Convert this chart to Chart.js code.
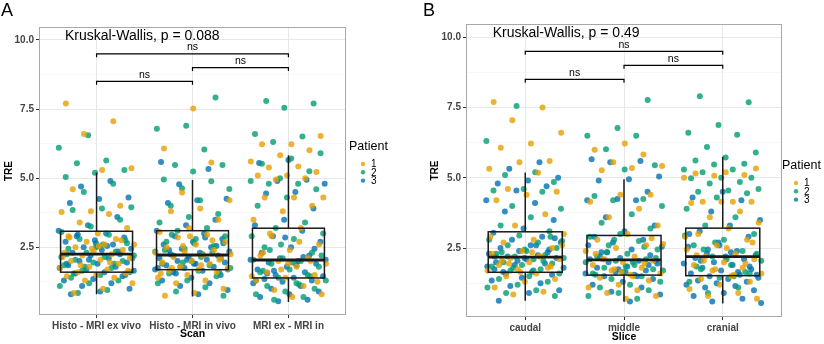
<!DOCTYPE html>
<html lang="en">
<head>
<meta charset="UTF-8"/>
<title>TRE per scan and slice</title>
<script src="https://cdn.jsdelivr.net/npm/chart.js@4.4.1/dist/chart.umd.min.js"></script>
<style>
    body { margin: 0; background: #fff; width: 824px; height: 344px; position: relative; overflow: hidden;
           font-family: "Liberation Sans", Arial, sans-serif; }
    .panel { position: absolute; top: 0; width: 412px; height: 344px; }
    .letter { position: absolute; top: 0; font-size: 18px; line-height: 21px; color: #000; }
</style>
</head>
<body>
<div class="panel" style="left:0"><canvas id="chartA" width="412" height="344"></canvas></div>
<div class="panel" style="left:412px"><canvas id="chartB" width="412" height="344"></canvas></div>
<div class="letter" style="left:1px">A</div>
<div class="letter" style="left:423px">B</div>
<script>
// ---- data ----
const patientLabels = ['1', '2', '3'];
const scanCategories = ['Histo - MRI ex vivo', 'Histo - MRI in vivo', 'MRI ex - MRI in'];
const sliceCategories = ['caudal', 'middle', 'cranial'];
const yTickValues = [1.25, 2.5, 3.75, 5, 6.25, 7.5, 8.75, 10];

// panel A, one array per patient per scan
const scanP1 = [
    [7.7, 7.06, 6.6, 5.36, 5.3, 4.6, 4.0, 3.8, 3.78, 3.7, 3.4, 3.2, 3.0, 2.9, 2.8, 2.7, 2.6, 2.6, 2.5, 2.4, 2.35, 2.3, 2.25, 2.2, 2.1, 2.05, 2.0, 1.9, 1.8, 1.75, 1.7, 1.6, 1.55, 1.5, 1.45, 1.4, 1.3, 1.2, 1.0, 0.85, 2.75, 2.45, 2.15, 1.95, 1.85, 1.65, 2.55, 2.85],
    [7.52, 6.07, 5.57, 4.48, 4.2, 3.9, 3.8, 3.5, 3.2, 3.05, 2.95, 2.85, 2.7, 2.6, 2.5, 2.4, 2.35, 2.3, 2.2, 2.15, 2.1, 2.0, 1.95, 1.9, 1.8, 1.75, 1.7, 1.65, 1.6, 1.5, 1.4, 1.3, 1.2, 1.0, 0.85, 0.75, 2.75, 2.55, 2.25, 1.85, 1.75, 2.05, 2.9, 1.55],
    [6.53, 6.23, 6.23, 6.01, 5.83, 5.6, 5.42, 5.39, 5.22, 5.1, 5.1, 5.0, 4.95, 4.3, 4.3, 4.3, 4.0, 3.8, 3.5, 3.2, 2.9, 2.6, 2.4, 2.2, 2.1, 2.0, 1.9, 1.8, 1.6, 1.5, 1.4, 1.3, 1.1, 0.95, 0.8, 0.7, 2.3, 2.0, 1.7, 1.45, 2.7, 3.0, 1.25, 1.9]
];
const scanP2 = [
    [6.55, 6.1, 5.64, 5.54, 5.3, 5.2, 5.04, 4.8, 4.5, 3.95, 3.9, 3.85, 3.5, 3.25, 3.05, 2.95, 2.8, 2.65, 2.55, 2.45, 2.35, 2.3, 2.2, 2.15, 2.05, 2.0, 1.95, 1.85, 1.75, 1.65, 1.6, 1.5, 1.4, 1.3, 1.2, 1.1, 0.95, 0.85, 2.75, 2.5, 2.25, 1.9, 1.8, 2.1, 2.6, 1.55],
    [7.92, 6.9, 6.79, 6.04, 5.48, 5.48, 5.24, 4.95, 4.89, 4.64, 4.61, 4.2, 4.0, 3.7, 3.6, 3.4, 3.2, 3.1, 2.9, 2.8, 2.7, 2.55, 2.45, 2.35, 2.25, 2.2, 2.1, 2.0, 1.9, 1.85, 1.8, 1.7, 1.65, 1.55, 1.45, 1.3, 1.2, 1.05, 0.9, 0.75, 2.65, 2.4, 2.3, 1.95, 1.75, 2.15, 2.95, 1.6],
    [7.79, 7.7, 7.55, 6.6, 6.51, 6.31, 5.9, 5.71, 5.52, 5.25, 5.0, 4.9, 4.8, 4.8, 4.6, 4.3, 4.0, 3.4, 3.2, 3.0, 2.8, 2.5, 2.3, 2.1, 2.05, 2.0, 1.9, 1.8, 1.7, 1.6, 1.5, 1.4, 1.3, 1.2, 1.1, 1.0, 0.9, 0.8, 0.7, 0.6, 2.2, 1.95, 1.65, 1.45, 2.6, 2.9, 1.15, 2.4]
];
const scanP3 = [
    [4.9, 4.7, 4.3, 4.25, 4.1, 3.6, 3.3, 3.1, 3.0, 2.9, 2.85, 2.75, 2.7, 2.6, 2.5, 2.45, 2.4, 2.3, 2.25, 2.2, 2.15, 2.1, 2.0, 1.95, 1.9, 1.85, 1.8, 1.7, 1.65, 1.6, 1.55, 1.45, 1.35, 1.3, 1.2, 1.1, 1.0, 0.9, 0.8, 2.35, 2.05, 1.75, 2.55, 2.95, 1.5, 2.65, 1.9],
    [5.59, 5.33, 4.78, 4.26, 4.2, 4.1, 3.5, 3.3, 3.1, 3.0, 2.9, 2.8, 2.7, 2.6, 2.5, 2.45, 2.35, 2.3, 2.25, 2.2, 2.15, 2.1, 2.05, 2.0, 1.95, 1.9, 1.85, 1.8, 1.75, 1.7, 1.65, 1.6, 1.5, 1.4, 1.3, 1.2, 1.1, 0.95, 0.8, 2.4, 2.55, 2.05, 1.75, 2.85, 1.55, 2.65, 1.9],
    [5.66, 5.55, 4.94, 4.9, 4.8, 4.5, 4.45, 3.9, 3.5, 3.3, 3.1, 2.9, 2.7, 2.5, 2.3, 2.2, 2.1, 2.05, 2.0, 1.95, 1.9, 1.8, 1.7, 1.6, 1.5, 1.45, 1.4, 1.35, 1.3, 1.25, 1.2, 1.1, 1.0, 0.9, 0.8, 0.7, 0.6, 0.55, 2.05, 1.85, 1.55, 2.45, 2.85, 1.3, 2.15, 1.65]
];

// panel B, one array per patient per slice
const sliceP1 = [
    [7.7, 7.5, 7.05, 6.6, 6.22, 6.07, 5.6, 5.55, 5.32, 5.18, 4.6, 4.5, 4.4, 4.2, 3.7, 3.3, 3.0, 2.8, 2.7, 2.5, 2.4, 2.3, 2.2, 2.15, 2.1, 2.0, 1.9, 1.8, 1.75, 1.7, 1.6, 1.5, 1.4, 1.3, 1.1, 0.95, 0.85, 2.6, 2.35, 2.05, 1.85, 1.65, 2.9, 2.2, 1.95],
    [6.22, 6.0, 5.83, 5.55, 5.42, 5.35, 5.27, 4.4, 4.4, 4.15, 3.9, 3.6, 3.3, 3.0, 2.8, 2.6, 2.5, 2.4, 2.2, 2.1, 2.05, 2.0, 1.9, 1.8, 1.7, 1.6, 1.55, 1.45, 1.35, 1.2, 1.1, 1.0, 0.9, 0.8, 0.7, 2.3, 1.95, 1.75, 2.65, 1.5, 2.1, 2.85, 1.65],
    [5.33, 5.2, 5.15, 5.1, 5.07, 5.0, 4.15, 4.15, 4.15, 4.15, 4.1, 3.8, 3.6, 3.4, 3.2, 3.0, 2.8, 2.6, 2.45, 2.3, 2.2, 2.1, 2.0, 1.9, 1.8, 1.7, 1.6, 1.5, 1.4, 1.3, 1.2, 1.05, 0.9, 0.8, 0.7, 2.5, 2.25, 1.95, 1.75, 2.9, 1.55, 2.05, 2.7]
];
const sliceP2 = [
    [7.55, 6.31, 5.2, 5.1, 4.85, 4.6, 4.55, 4.5, 4.0, 3.9, 3.6, 3.3, 3.1, 2.95, 2.8, 2.7, 2.6, 2.5, 2.4, 2.3, 2.25, 2.2, 2.15, 2.1, 2.0, 1.95, 1.9, 1.85, 1.75, 1.7, 1.6, 1.5, 1.4, 1.3, 1.2, 1.1, 1.0, 0.9, 0.8, 2.45, 2.2, 2.05, 1.8, 2.75, 1.65, 2.35, 2.9],
    [7.77, 6.77, 6.5, 6.5, 6.02, 5.45, 5.3, 4.35, 4.25, 4.2, 4.0, 3.7, 3.4, 3.2, 3.0, 2.9, 2.75, 2.6, 2.45, 2.3, 2.2, 2.1, 2.05, 2.0, 1.9, 1.8, 1.75, 1.65, 1.6, 1.5, 1.4, 1.3, 1.2, 1.1, 1.0, 0.9, 0.8, 0.7, 2.35, 2.15, 1.85, 1.55, 2.55, 2.8, 1.7, 2.0],
    [7.9, 7.69, 6.88, 6.6, 6.53, 6.1, 5.9, 5.72, 5.62, 5.5, 5.47, 5.3, 5.3, 5.2, 5.0, 5.0, 4.98, 4.85, 4.8, 4.6, 4.55, 4.5, 4.45, 4.3, 3.9, 3.6, 3.3, 3.0, 2.8, 2.6, 2.4, 2.2, 2.05, 1.9, 1.75, 1.6, 1.45, 1.3, 1.1, 0.9, 2.3, 2.1, 1.85, 1.65, 2.7, 2.95, 1.5, 2.45]
];
const sliceP3 = [
    [5.55, 5.32, 5.0, 4.9, 4.8, 4.7, 4.55, 4.2, 4.1, 3.8, 3.5, 3.2, 3.05, 2.9, 2.8, 2.7, 2.6, 2.5, 2.45, 2.4, 2.3, 2.25, 2.2, 2.15, 2.1, 2.0, 1.95, 1.9, 1.8, 1.7, 1.65, 1.55, 1.45, 1.35, 1.25, 1.15, 1.0, 0.9, 0.63, 2.35, 2.05, 1.85, 2.6, 1.6, 2.85, 2.15, 1.75],
    [5.66, 5.6, 5.55, 5.05, 4.95, 4.9, 4.5, 4.25, 4.2, 4.2, 3.6, 3.3, 3.1, 2.9, 2.8, 2.7, 2.55, 2.45, 2.35, 2.25, 2.15, 2.1, 2.05, 2.0, 1.95, 1.85, 1.8, 1.7, 1.65, 1.6, 1.55, 1.5, 1.4, 1.3, 1.2, 1.1, 0.95, 0.85, 0.6, 2.2, 1.9, 1.75, 2.6, 1.5, 2.35, 2.05, 1.65],
    [4.5, 4.3, 4.2, 3.8, 3.5, 3.3, 3.1, 2.9, 2.7, 2.55, 2.4, 2.3, 2.25, 2.2, 2.15, 2.1, 2.0, 1.95, 1.9, 1.8, 1.75, 1.7, 1.6, 1.55, 1.5, 1.45, 1.4, 1.35, 1.3, 1.25, 1.2, 1.15, 1.1, 1.0, 0.9, 0.8, 0.7, 0.6, 0.55, 2.35, 2.05, 1.85, 2.6, 3.0, 1.65, 2.45, 1.55]
];

// box stats per category: lower whisker, Q1, median, Q3, upper whisker
const scanWhiskerLow = [0.8, 0.72, 0.52];
const scanQ1 = [1.6, 1.69, 1.39];
const scanMedian = [2.25, 2.22, 2.04];
const scanQ3 = [3.08, 3.1, 3.19];
const scanWhiskerHigh = [5.2, 4.93, 5.83];

const sliceWhiskerLow = [0.63, 0.59, 0.53];
const sliceQ1 = [1.64, 1.54, 1.52];
const sliceMedian = [2.18, 2.08, 2.2];
const sliceQ3 = [3.08, 2.95, 3.21];
const sliceWhiskerHigh = [5.19, 4.95, 5.75];

// pairwise comparisons
const bracketPairs = [[1, 2], [2, 3], [1, 3]];
const bracketHeights = [8.5, 9.0, 9.5];
const bracketLabels = ['ns', 'ns', 'ns'];

const kruskalScan = 'Kruskal-Wallis, p = 0.088';
const kruskalSlice = 'Kruskal-Wallis, p = 0.49';

// ---- styles ----
const patientColors = ['rgba(230,159,0,0.8)', 'rgba(0,158,115,0.8)', 'rgba(0,114,178,0.8)'];
const FONT = '"Liberation Sans", Arial, sans-serif';

// spread points sideways inside each category (layout only)
function jitter(i, seed) {
    return (((i * 0.6180339887 + seed) % 1) - 0.5) * 0.8;
}

function buildPanel(id, p) {
    const datasets = [];
    p.values.forEach((perCat, k) => {
        const pts = [];
        perCat.forEach((arr, g) => {
            arr.forEach((v, i) => pts.push({x: g + 1 + jitter(i, 0.29 * k + 0.41 * g + 0.1), y: v}));
        });
        datasets.push({
            label: patientLabels[k], data: pts, backgroundColor: patientColors[k],
            borderWidth: 0, pointRadius: 3, pointHoverRadius: 3
        });
    });
    const tip = 0.12;
    bracketPairs.forEach((pr, j) => {
        const h = bracketHeights[j];
        datasets.push({
            label: 'bracket', showLine: true, borderColor: '#000', borderWidth: 1.2,
            pointRadius: 0, fill: false, tension: 0,
            data: [{x: pr[0], y: h - tip}, {x: pr[0], y: h}, {x: pr[1], y: h}, {x: pr[1], y: h - tip}]
        });
    });

    const decor = {
        id: 'decor',
        afterDatasetsDraw(chart) {
            const {ctx, scales: {x, y}} = chart;
            ctx.save();
            // boxplots
            ctx.strokeStyle = '#1a1a1a';
            for (let g = 0; g < 3; g++) {
                const cx = x.getPixelForValue(g + 1);
                const l = x.getPixelForValue(g + 1 - 0.375), r = x.getPixelForValue(g + 1 + 0.375);
                const yq1 = y.getPixelForValue(p.q1[g]), yq3 = y.getPixelForValue(p.q3[g]);
                ctx.lineWidth = 1.5;
                ctx.beginPath();
                ctx.moveTo(cx, y.getPixelForValue(p.whiskerHigh[g])); ctx.lineTo(cx, yq3);
                ctx.moveTo(cx, yq1); ctx.lineTo(cx, y.getPixelForValue(p.whiskerLow[g]));
                ctx.stroke();
                ctx.strokeRect(l, yq3, r - l, yq1 - yq3);
                ctx.lineWidth = 2.8;
                ctx.beginPath();
                const ym = y.getPixelForValue(p.median[g]);
                ctx.moveTo(l, ym); ctx.lineTo(r, ym);
                ctx.stroke();
            }
            // bracket labels
            ctx.fillStyle = '#000';
            ctx.font = '10.5px ' + FONT;
            ctx.textAlign = 'center';
            ctx.textBaseline = 'bottom';
            bracketPairs.forEach((pr, j) => {
                ctx.fillText(bracketLabels[j], x.getPixelForValue((pr[0] + pr[1]) / 2), y.getPixelForValue(bracketHeights[j]) - 1);
            });
            // Kruskal-Wallis label
            ctx.font = '14px ' + FONT;
            ctx.textAlign = 'left';
            ctx.textBaseline = 'middle';
            ctx.fillText(p.kruskal, x.getPixelForValue(0.67), y.getPixelForValue(10.15));
            ctx.restore();
        },
        afterDraw(chart) {
            const {ctx, chartArea: a} = chart;
            ctx.save();
            ctx.strokeStyle = '#a8a8a8';
            ctx.lineWidth = 1;
            ctx.strokeRect(a.left + 0.5, a.top + 0.5, a.right - a.left - 1, a.bottom - a.top - 1);
            // legend
            const lg = p.legend;
            ctx.fillStyle = '#000';
            ctx.font = '12.5px ' + FONT;
            ctx.textAlign = 'left';
            ctx.textBaseline = 'middle';
            ctx.fillText('Patient', lg.x, lg.y);
            ctx.font = '10px ' + FONT;
            patientLabels.forEach((lab, k) => {
                const yy = lg.y + 17 + k * 8.3;
                ctx.fillStyle = patientColors[k];
                ctx.beginPath();
                ctx.arc(lg.x + 14, yy, 2.2, 0, Math.PI * 2);
                ctx.fill();
                ctx.fillStyle = '#000';
                ctx.fillText(lab, lg.x + 22, yy + 0.5);
            });
            ctx.restore();
        }
    };

    return new Chart(document.getElementById(id), {
        type: 'scatter',
        data: {datasets},
        plugins: [decor],
        options: {
            responsive: false,
            animation: false,
            events: [],
            layout: {padding: {left: 0, top: p.top, right: p.right, bottom: 0}},
            plugins: {legend: {display: false}, tooltip: {enabled: false}},
            scales: {
                x: {
                    type: 'linear', min: 0.4, max: 3.6,
                    afterBuildTicks: s => { s.ticks = [1, 2, 3].map(v => ({value: v})); },
                    afterFit: s => { s.height = p.xHeight; },
                    ticks: {
                        autoSkip: false, maxRotation: 0, padding: 2, color: '#444',
                        font: {family: FONT, size: 10, weight: 'bold'},
                        callback: v => p.categories[Math.round(v) - 1]
                    },
                    grid: {color: '#e8e8e8', lineWidth: 1, tickLength: 3, tickColor: '#333'},
                    border: {display: false},
                    title: {
                        display: true, text: p.xTitle, color: '#000',
                        font: {family: FONT, size: 10.5, weight: 'bold'},
                        padding: {top: 0, bottom: p.xTitlePad}
                    }
                },
                y: {
                    type: 'linear', min: 0.05, max: 10.47,
                    afterBuildTicks: s => { s.ticks = yTickValues.map(v => ({value: v})); },
                    afterFit: s => { s.width = p.yWidth; },
                    ticks: {
                        autoSkip: false, padding: 2, color: '#444',
                        font: {family: FONT, size: 10, weight: 'bold'},
                        callback: v => (v % 2.5 === 0 ? v.toFixed(1) : '')
                    },
                    grid: {
                        color: c => (c.tick && c.tick.value % 2.5 !== 0 ? '#f4f4f4' : '#e8e8e8'),
                        lineWidth: c => (c.tick && c.tick.value % 2.5 !== 0 ? 0.6 : 1),
                        tickLength: 3,
                        tickColor: c => (c.tick && c.tick.value % 2.5 !== 0 ? 'rgba(0,0,0,0)' : '#333')
                    },
                    border: {display: false},
                    title: {
                        display: true, text: 'TRE', color: '#000',
                        font: {family: FONT, size: 10, weight: 'bold'},
                        padding: {top: p.yTitlePad, bottom: 0}
                    }
                }
            }
        }
    });
}

buildPanel('chartA', {
    values: [scanP1, scanP2, scanP3],
    categories: scanCategories, xTitle: 'Scan', kruskal: kruskalScan,
    whiskerLow: scanWhiskerLow, q1: scanQ1, median: scanMedian, q3: scanQ3, whiskerHigh: scanWhiskerHigh,
    top: 27, right: 66, xHeight: 29, yWidth: 39, xTitlePad: 4, yTitlePad: 3,
    legend: {x: 349, y: 147}
});

buildPanel('chartB', {
    values: [sliceP1, sliceP2, sliceP3],
    categories: sliceCategories, xTitle: 'Slice', kruskal: kruskalSlice,
    whiskerLow: sliceWhiskerLow, q1: sliceQ1, median: sliceMedian, q3: sliceQ3, whiskerHigh: sliceWhiskerHigh,
    top: 24, right: 42, xHeight: 27, yWidth: 54, xTitlePad: 1, yTitlePad: 17,
    legend: {x: 370, y: 166}
});
</script>
</body>
</html>
